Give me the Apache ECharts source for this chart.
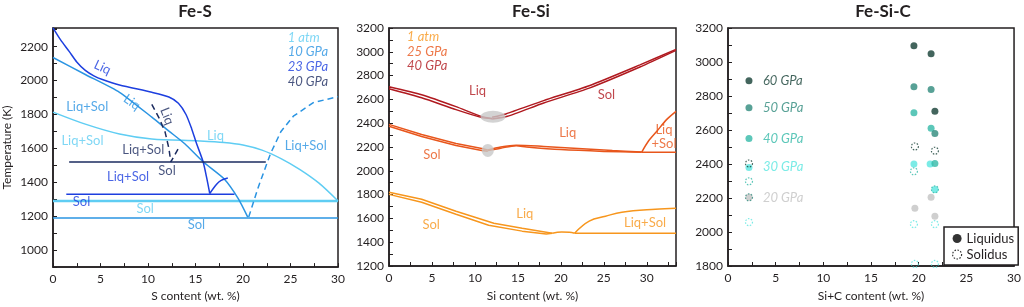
<!DOCTYPE html>
<html>
<head>
<meta charset="utf-8">
<script src="https://cdn.jsdelivr.net/npm/echarts@6/dist/echarts.min.js"></script>
<style>html,body{margin:0;background:#fff}#chart{width:1024px;height:307px}</style>
</head>
<body>
<div id="chart"></div>
<script>
// ---- Fe-S (S wt.%, K) ----
var fsLiq23 = [[0,2311],[0.8,2240],[1.7,2172],[2.5,2110],[3.4,2060],[4.3,2028],[5.2,2006],[7.0,1974],[10.4,1931],[12.2,1903],[13.2,1866],[14.0,1800],[14.6,1715],[15.1,1630],[15.8,1521],[16.2,1420],[16.5,1334]];
var fsV23 = [[16.5,1334],[17.2,1387],[17.7,1411],[18.4,1425]];
var fsSol23 = [[1.4,1330],[19.1,1330]];
var fsLiq10 = [[0,2136],[3.4,2036],[7.0,1931],[10.4,1784],[12.2,1702],[13.9,1626],[15.8,1521],[18.0,1421],[19.5,1304],[20.5,1195]];
var fsSol10 = [[0,1190],[30,1190]];
var fsDash10 = [[20.6,1195],[21.6,1370],[22.9,1570],[24.0,1700],[25.3,1790],[27.4,1870],[30,1905]];
var fsLiqAtm = [[0,1814],[3.4,1743],[7.0,1685],[10.4,1656],[15.4,1644],[18,1635],[20,1620],[22,1590],[24,1540],[26,1475],[28,1395],[30,1290]];
var fsSolAtm = [[0,1290],[30,1290]];
var fsSol40 = [[1.7,1520],[22.4,1520]];
var fsDash40 = [[10.4,1860],[11.2,1775],[11.8,1696],[12.2,1600],[12.4,1520],[13.3,1610]];
var fsNotes = [
  [5.2,2077,'Liq','g23',-25],[8.3,1872,'Liq','g10',-35],[12.0,1790,'Liq','g40',-68],
  [3.6,1843,'Liq+Sol','g10',0],[3.1,1644,'Liq+Sol','atm',0],[9.5,1591,'Liq+Sol','g40',0],
  [17.1,1673,'Liq','atm',0],[26.6,1615,'Liq+Sol','g10',0],[12.0,1468,'Sol','g40',0],
  [7.9,1433,'Liq+Sol','g23',0],[3.0,1287,'Sol','g23',0],[9.7,1246,'Sol','atm',0],[15.1,1152,'Sol','g10',0]
];
var fsKeys = [[24.7,2253,'1 atm','atm'],[24.7,2171,'10 GPa','g10'],[24.7,2083,'23 GPa','g23'],[24.7,1995,'40 GPa','g40']];

// ---- Fe-Si (Si wt.%, K) ----
var siLiq40 = [[0,2706],[3.8,2639],[7.8,2539],[10.8,2455],[12,2440]];
var siSol40 = [[0,2690],[3.8,2614],[7.8,2514],[10.8,2447],[12,2438]];
var siLiq40r = [[12,2450],[13.6,2478],[18,2590],[23.3,2715],[29.2,2890],[33.4,3020]];
var siSol40r = [[12,2435],[13.8,2458],[18,2570],[23.3,2695],[29.2,2872],[33.4,3012]];
var siLiq25 = [[0,2390],[3.8,2305],[7.8,2229],[10.8,2187],[11.5,2175]];
var siSol25 = [[0,2375],[3.8,2288],[7.8,2212],[10.8,2171],[11.5,2165]];
var siLiq25r = [[11.5,2175],[13,2200],[14.8,2215],[18,2205],[22,2188],[26,2170],[29.4,2157]];
var siSol25r = [[11.5,2170],[13,2190],[14.8,2210],[16,2200],[20,2178],[25,2163],[29.4,2155]];
var siEut25 = [[29.4,2155],[33.4,2155]];
var siLS25 = [[29.4,2155],[30.2,2250],[31.2,2335],[32.3,2430],[33.4,2500]];
var siLiq1 = [[0,1819],[3.8,1761],[7.8,1660],[12.2,1560],[15.5,1518],[19,1476]];
var siSol1 = [[0,1802],[3.8,1736],[7.8,1635],[11.6,1543],[15.5,1493],[18.3,1468],[19,1476]];
var siBump1 = [[19,1476],[20.1,1485],[21,1483],[21.6,1476]];
var siLS1 = [[21.6,1476],[23.3,1577],[25.2,1618],[27.1,1652],[31,1677],[33.4,1685]];
var siEut1 = [[21.6,1476],[33.4,1476]];
var siBlobs = [[12.1,2455],[11.5,2171]];
var siNotes = [
  [10.3,2673,'Liq','g40'],[25.3,2639,'Sol','g40'],[20.8,2321,'Liq','g25'],[32.0,2288,'Liq\n+Sol','g25'],
  [5.0,2137,'Sol','g25'],[15.8,1635,'Liq','atm'],[4.9,1543,'Sol','atm'],[29.8,1560,'Liq+Sol','atm']
];
var siKeys = [[2.1,3125,'1 atm','atm'],[2.1,2999,'25 GPa','g25'],[2.1,2882,'40 GPa','g40']];

// ---- Fe-Si-C (Si+C wt.%, K) ----
var liq60 = [[2.2,2890],[19.5,3095],[21.3,3048],[21.7,2710]];
var liq50 = [[2.2,2731],[19.5,2854],[21.3,2838],[21.7,2580]];
var liq40 = [[2.2,2550],[19.5,2702],[21.3,2610],[21.7,2403]];
var liq30 = [[2.2,2380],[19.5,2400],[21.2,2400],[21.7,2250]];
var liq20 = [[2.2,2204],[19.6,2140],[21.3,2204],[21.7,2093]];
var sol60 = [[2.2,2403],[19.6,2503],[21.7,2478]];
var sol50 = [[2.2,2204]];
var sol40 = [[2.2,2298],[19.5,2357],[21.7,2251]];
var sol30 = [[2.2,2058],[19.5,2046],[21.7,2046],[19.6,1812],[21.7,1812]];
var fscKeys = [[3.66,2890,'60 GPa','p60'],[3.66,2731,'50 GPa','p50'],[3.66,2550,'40 GPa','p40'],[3.66,2386,'30 GPa','p30'],[3.66,2204,'20 GPa','p20']];

var COL = {
  atmS:'#5fcdf3', g10S:'#2a94e2', g23S:'#1d3fdf', g40S:'#1b2b5f',
  atmSi:'#f7961d', g25Si:'#e8561c', g40Si:'#b0191f',
  p60:'#143f35', p50:'#2e8a7c', p40:'#33b9a8', p30:'#5ae6e0', p20:'#c3c3c3'
};
var fsCol = {atm:COL.atmS, g10:COL.g10S, g23:COL.g23S, g40:COL.g40S};
var siCol = {atm:COL.atmSi, g25:COL.g25Si, g40:COL.g40Si};
var ink = '#231f20';
var FONT = 'Lato';

var myChart = echarts.init(document.getElementById('chart'));

function line(data, color, i, extra) {
  var s = {type:'line', data:data, xAxisIndex:i, yAxisIndex:i, symbol:'none', showSymbol:false,
    silent:true, lineStyle:{color:color, width:1.5}, z:3};
  if (extra) { for (var k in extra) s[k] = extra[k]; }
  return s;
}
function dashed(data, color, i) {
  return line(data, color, i, {lineStyle:{color:color, width:1.5, type:[6,4]}});
}
function notes(list, cmap, i, italic, align) {
  return {type:'scatter', xAxisIndex:i, yAxisIndex:i, symbolSize:0, silent:true, z:6,
    data: list.map(function (n) {
      return {value:[n[0], n[1]], label:{show:true, position:'inside', formatter:n[2],
        color:cmap[n[3]], rotate:n[4] || 0, fontSize:13, fontFamily:FONT,
        fontStyle: italic ? 'italic' : 'normal', align: align || 'center', lineHeight:14}};
    })};
}
function dots(data, color, name) {
  return {type:'scatter', name:name, xAxisIndex:2, yAxisIndex:2, data:data, symbolSize:7,
    itemStyle:{color:color}, z:4, silent:true};
}
function rings(data, color, name) {
  return {type:'scatter', name:name, xAxisIndex:2, yAxisIndex:2, data:data, symbolSize:7,
    itemStyle:{color:'rgba(0,0,0,0)', borderColor:color, borderWidth:1.2, borderType:[1.5,1.5]}, z:5, silent:true};
}

function xAx(i, max, name, gap) {
  return {type:'value', gridIndex:i, min:0, max:max, interval:2.5, name:name, nameLocation:'middle', nameGap:gap,
    nameTextStyle:{fontSize:12, color:ink, fontFamily:FONT},
    axisLine:{lineStyle:{color:ink, width:1.5}}, axisTick:{inside:true, length:4, lineStyle:{color:ink}},
    splitLine:{show:false},
    axisLabel:{fontSize:12, color:ink, fontFamily:FONT, margin:6,
      formatter:function (v) { return v % 5 === 0 ? v : ''; }}};
}
function yAx(i, min, max, lo, hi, name) {
  return {type:'value', gridIndex:i, min:min, max:max, interval:100, name:name || '', nameLocation:'middle', nameGap:40,
    nameTextStyle:{fontSize:12, color:ink, fontFamily:FONT},
    axisLine:{lineStyle:{color:ink, width:1.5}}, axisTick:{inside:true, length:4, lineStyle:{color:ink}},
    splitLine:{show:false},
    axisLabel:{fontSize:12, color:ink, fontFamily:FONT, margin:5,
      formatter:function (v) { return (v % 200 === 0 && v >= lo && v <= hi) ? v : ''; }}};
}

var gridStyle = {show:true, borderColor:ink, borderWidth:1.5, backgroundColor:'#fff'};
function grid(left, width, height) {
  var g = {left:left, width:width, top:28, height:height};
  for (var k in gridStyle) g[k] = gridStyle[k];
  return g;
}

var option = {
  animation:false,
  textStyle:{fontFamily:FONT},
  graphic:[
    {type:'text', x:195, y:3, style:{text:'Fe-S', font:'bold 17px ' + FONT, fill:ink, align:'center'}},
    {type:'text', x:531, y:3, style:{text:'Fe-Si', font:'bold 17px ' + FONT, fill:ink, align:'center'}},
    {type:'text', x:883, y:3, style:{text:'Fe-Si-C', font:'bold 17px ' + FONT, fill:ink, align:'center'}}
  ],
  grid:[grid(50, 288, 241), grid(389, 287, 239), grid(728, 287, 239)],
  xAxis:[xAx(0, 30, 'S content (wt. %)', 22), xAx(1, 33.4, 'Si content (wt. %)', 24), xAx(2, 30, 'Si+C content (wt. %)', 24)],
  yAxis:[yAx(0, 900, 2310, 1000, 2200, 'Temperature (K)'), yAx(1, 1200, 3200, 1200, 3200), yAx(2, 1800, 3200, 1800, 3200)],
  legend:{
    left:944, top:227, width:71, orient:'vertical', padding:[5,4,4,8], itemGap:3,
    itemWidth:9, itemHeight:9, borderColor:ink, borderWidth:1.5, backgroundColor:'#fff',
    textStyle:{fontSize:13, color:ink, fontFamily:FONT}, selectedMode:false, z:10,
    data:[
      {name:'Liquidus', icon:'circle'},
      {name:'Solidus', icon:'circle', itemStyle:{color:'rgba(0,0,0,0)', borderColor:'#000', borderWidth:1.2, borderType:[1.5,1.5]}}
    ]
  },
  series:[
    // Fe-S
    line(fsSolAtm, COL.atmS, 0, {lineStyle:{color:COL.atmS, width:2.5}}),
    line(fsLiqAtm, COL.atmS, 0, {smooth:0.3}),
    line(fsSol10, COL.g10S, 0),
    line(fsLiq10, COL.g10S, 0, {smooth:0.2}),
    dashed(fsDash10, COL.g10S, 0),
    line(fsSol23, COL.g23S, 0),
    line(fsLiq23, COL.g23S, 0, {smooth:0.25}),
    line(fsV23, COL.g23S, 0, {smooth:0.3}),
    line(fsSol40, COL.g40S, 0),
    dashed(fsDash40, COL.g40S, 0),
    notes(fsNotes, fsCol, 0, false),
    notes(fsKeys, fsCol, 0, true, 'left'),
    // Fe-Si
    line(siLiq40, COL.g40Si, 1, {smooth:0.2}),
    line(siSol40, COL.g40Si, 1, {smooth:0.2}),
    line(siLiq40r, COL.g40Si, 1, {smooth:0.2}),
    line(siSol40r, COL.g40Si, 1, {smooth:0.2}),
    line(siLiq25, COL.g25Si, 1),
    line(siSol25, COL.g25Si, 1),
    line(siLiq25r, COL.g25Si, 1, {smooth:0.3}),
    line(siSol25r, COL.g25Si, 1, {smooth:0.3}),
    line(siEut25, COL.g25Si, 1),
    line(siLS25, COL.g25Si, 1, {smooth:0.3}),
    line(siLiq1, COL.atmSi, 1),
    line(siSol1, COL.atmSi, 1),
    line(siBump1, COL.atmSi, 1, {smooth:0.4}),
    line(siLS1, COL.atmSi, 1, {smooth:0.4}),
    line(siEut1, COL.atmSi, 1),
    {type:'scatter', xAxisIndex:1, yAxisIndex:1, silent:true, z:5, itemStyle:{color:'#c8c8c8'},
      data:[{value:siBlobs[0], symbolSize:[25,12]}, {value:siBlobs[1], symbolSize:[12,13]}]},
    notes(siNotes, siCol, 1, false),
    notes(siKeys, siCol, 1, true, 'left'),
    // Fe-Si-C
    {type:'scatter', name:'Liquidus', xAxisIndex:2, yAxisIndex:2, data:[], itemStyle:{color:'#000'}},
    {type:'scatter', name:'Solidus', xAxisIndex:2, yAxisIndex:2, data:[], itemStyle:{color:'#000'}},
    dots(liq20, COL.p20, 'L20'),
    dots(liq30, COL.p30, 'L30'),
    dots(liq40, COL.p40, 'L40'),
    dots(liq50, COL.p50, 'L50'),
    dots(liq60, COL.p60, 'L60'),
    rings(sol30, COL.p30, 'S30'),
    rings(sol40, COL.p40, 'S40'),
    rings(sol50, COL.p50, 'S50'),
    rings(sol60, COL.p60, 'S60'),
    notes(fscKeys, COL, 2, true, 'left')
  ]
};

myChart.setOption(option);
</script>
</body>
</html>
